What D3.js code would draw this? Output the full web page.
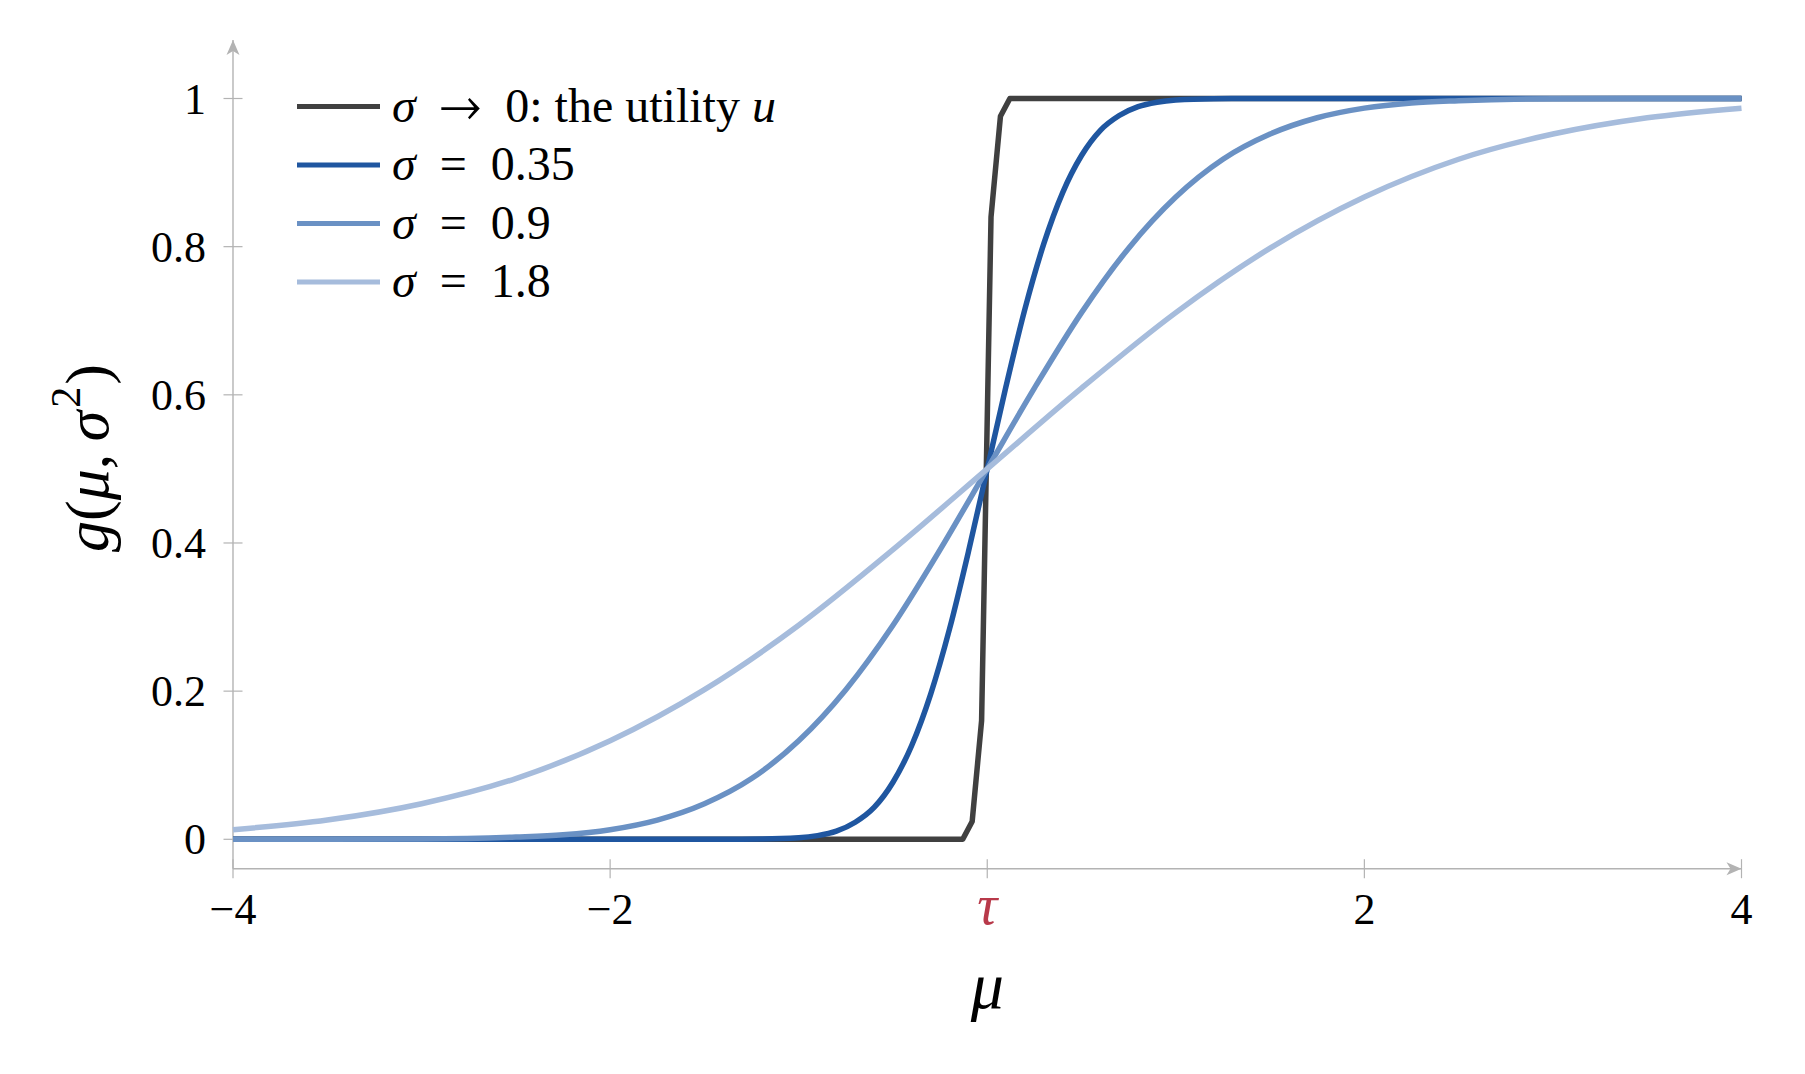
<!DOCTYPE html>
<html>
<head>
<meta charset="utf-8">
<style>
body { margin: 0; background: #fff; }
.curve { fill: none; stroke-width: 5.5; stroke-linejoin: round; }
</style>
<script src="https://cdn.jsdelivr.net/npm/d3@7"></script>
</head>
<body>
<svg width="1805" height="1074"></svg>
<script>

// mu positions and g(mu, sigma^2) values per curve
var muStep = [-4, -0.13, -0.08, -0.03, 0.02, 0.07, 0.12, 4];
var gStep  = [0, 0, 0.024, 0.16, 0.84, 0.976, 1, 1];

var mu035 = [-4, -1.5, -1.2, -1.0, -0.9, -0.8, -0.7, -0.6, -0.5, -0.4, -0.3, -0.2, -0.1, 0,
             0.1, 0.2, 0.3, 0.4, 0.5, 0.6, 0.7, 0.8, 0.9, 1.0, 1.2, 1.5, 4];
var g035  = [0, 0, 0.0003, 0.002, 0.005, 0.011, 0.023, 0.043, 0.077, 0.127, 0.196, 0.284, 0.388, 0.5,
             0.612, 0.716, 0.804, 0.873, 0.923, 0.957, 0.977, 0.989, 0.995, 0.998, 0.9997, 1, 1];

var mu09 = [-4, -3.5, -3, -2.5, -2.25, -2, -1.75, -1.5, -1.25, -1, -0.75, -0.5, -0.25, 0,
            0.25, 0.5, 0.75, 1, 1.25, 1.5, 1.75, 2, 2.25, 2.5, 3, 3.5, 4];
var g09  = [0, 0.0001, 0.0004, 0.003, 0.006, 0.013, 0.026, 0.048, 0.082, 0.133, 0.202, 0.289, 0.391, 0.5,
            0.609, 0.711, 0.798, 0.867, 0.918, 0.952, 0.974, 0.987, 0.994, 0.997, 0.9996, 0.9999, 1];

var mu18 = [-4, -3.5, -3, -2.5, -2, -1.5, -1, -0.5, 0, 0.5, 1, 1.5, 2, 2.5, 3, 3.5, 4];
var g18  = [0.013, 0.026, 0.048, 0.082, 0.133, 0.202, 0.289, 0.391, 0.5, 0.609, 0.711, 0.798, 0.867, 0.918, 0.952, 0.974, 0.987];

var xTicks = [-4, -2, 0, 2, 4];
var xTickText = ["\u22124", "\u22122", "\u03c4", "2", "4"];
var yTicks = [0, 0.2, 0.4, 0.6, 0.8, 1];
var yTickText = ["0", "0.2", "0.4", "0.6", "0.8", "1"];

var series = [
  {name: "step", mu: muStep, g: gStep, color: "#404040", smooth: false},
  {name: "s035", mu: mu035, g: g035, color: "#1f56a0", smooth: true},
  {name: "s09",  mu: mu09,  g: g09,  color: "#6a91c4", smooth: true},
  {name: "s18",  mu: mu18,  g: g18,  color: "#a6bcdc", smooth: true}
];

var serif = "'Liberation Serif'";

var svg = d3.select("svg");

var x = d3.scaleLinear().domain([-4, 4]).range([233, 1741.5]);
var y = d3.scaleLinear().domain([0, 1]).range([839.3, 98.5]);

var axisY = 868.7, axisX = 233, axisGray = "#b3b3b3";

// axes lines with arrow heads
svg.append("line")
    .attr("x1", axisX).attr("x2", x(4))
    .attr("y1", axisY).attr("y2", axisY)
    .attr("stroke", axisGray).attr("stroke-width", 1.4);
svg.append("path")
    .attr("d", "M0,0 L-15,-6.5 L-11,0 L-15,6.5 Z")
    .attr("transform", "translate(" + x(4) + "," + axisY + ")")
    .attr("fill", axisGray);

svg.append("line")
    .attr("x1", axisX).attr("x2", axisX)
    .attr("y1", axisY).attr("y2", 40)
    .attr("stroke", axisGray).attr("stroke-width", 1.4);
svg.append("path")
    .attr("d", "M0,0 L-15,-6.5 L-11,0 L-15,6.5 Z")
    .attr("transform", "translate(" + axisX + ",40) rotate(-90)")
    .attr("fill", axisGray);

// x ticks
var xt = svg.append("g").selectAll("g")
  .data(xTicks)
  .enter().append("g")
    .attr("transform", function(d) { return "translate(" + x(d) + "," + axisY + ")"; });
xt.append("line")
    .attr("y1", -9.5).attr("y2", 9.5)
    .attr("stroke", axisGray).attr("stroke-width", 1.2);
xt.append("text")
    .attr("text-anchor", "middle")
    .attr("y", 55)
    .style("font-family", serif)
    .style("font-size", function(d, i) { return xTickText[i] == "\u03c4" ? "56px" : "44px"; })
    .style("font-style", function(d, i) { return xTickText[i] == "\u03c4" ? "italic" : null; })
    .style("fill", function(d, i) { return xTickText[i] == "\u03c4" ? "#b8394a" : "#000"; })
    .text(function(d, i) { return xTickText[i]; });

// y ticks
var yt = svg.append("g").selectAll("g")
  .data(yTicks)
  .enter().append("g")
    .attr("transform", function(d) { return "translate(" + axisX + "," + y(d) + ")"; });
yt.append("line")
    .attr("x1", -9.5).attr("x2", 9.5)
    .attr("stroke", axisGray).attr("stroke-width", 1.2);
yt.append("text")
    .attr("text-anchor", "end")
    .attr("x", -27)
    .attr("y", 15)
    .style("font-family", serif)
    .style("font-size", "44px")
    .text(function(d, i) { return yTickText[i]; });

// curves
series.forEach(function(s) {
  var pts = s.mu.map(function(m, i) { return [m, s.g[i]]; });
  var line = d3.line()
      .x(function(d) { return x(d[0]); })
      .y(function(d) { return y(d[1]); })
      .curve(s.smooth ? d3.curveMonotoneX : d3.curveLinear);
  svg.append("path")
      .attr("class", "curve")
      .attr("d", line(pts))
      .attr("stroke", s.color);
});

// axis titles
svg.append("text")
    .attr("text-anchor", "middle")
    .attr("x", x(0))
    .attr("y", 1008)
    .style("font-family", serif)
    .style("font-size", "66px")
    .style("font-style", "italic")
    .text("\u03bc");

var yl = svg.append("text")
    .attr("text-anchor", "middle")
    .attr("transform", "translate(108,458) rotate(-90)")
    .style("font-family", serif)
    .style("font-size", "62px");
yl.append("tspan").style("font-style", "italic").text("g");
yl.append("tspan").text("(");
yl.append("tspan").style("font-style", "italic").text("\u03bc");
yl.append("tspan").text(",\u2009");
yl.append("tspan").style("font-style", "italic").text("\u03c3");
yl.append("tspan").attr("dx", 3).attr("dy", -28).style("font-size", "42px").text("2");
yl.append("tspan").attr("dx", 2).attr("dy", 28).text(")");

// legend
var legendItems = [
  [{t: "\u03c3", it: true}, {t: "\u2002"}, {t: "\u2192", arrow: true}, {t: "\u2002"}, {t: "0: the utility "}, {t: "u", it: true}],
  [{t: "\u03c3", it: true}, {t: "\u2002=\u20020.35"}],
  [{t: "\u03c3", it: true}, {t: "\u2002=\u20020.9"}],
  [{t: "\u03c3", it: true}, {t: "\u2002=\u20021.8"}]
];
var legend = svg.append("g").attr("class", "legend");
legendItems.forEach(function(parts, i) {
  var ly = 106.5 + i * 58.5;
  legend.append("line")
      .attr("x1", 297).attr("x2", 380)
      .attr("y1", ly).attr("y2", ly)
      .attr("stroke", series[i].color)
      .attr("stroke-width", 5);
  var t = legend.append("text")
      .attr("x", 392)
      .attr("y", ly + 15)
      .style("font-family", serif)
      .style("font-size", "48px");
  parts.forEach(function(p) {
    t.append("tspan")
      .style("font-style", p.it ? "italic" : null)
      .style("font-family", p.arrow ? "'FreeSerif'" : serif)
      .style("font-size", p.arrow ? "52px" : null)
      .text(p.t);
  });
});

</script>
</body>
</html>
